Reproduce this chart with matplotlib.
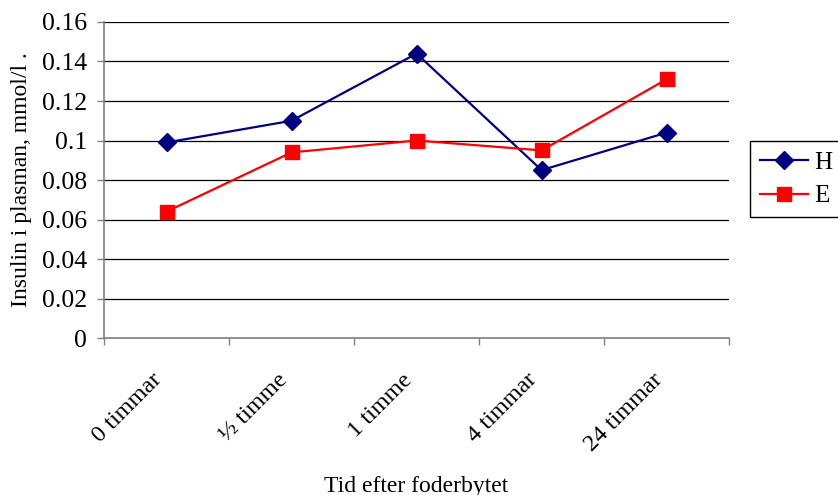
import numpy as np
import matplotlib
matplotlib.use('Agg')
import matplotlib.pyplot as plt
import matplotlib.transforms as mtransforms

# data
categories = ['0 timmar', '\u00bd timme', '1 timme', '4 timmar', '24 timmar']
h_values = [0.099, 0.110, 0.144, 0.085, 0.104]
e_values = [0.064, 0.094, 0.100, 0.095, 0.131]
y_ticks = [0, 0.02, 0.04, 0.06, 0.08, 0.1, 0.12, 0.14, 0.16]
y_ticklabels = ['0', '0.02', '0.04', '0.06', '0.08', '0.1', '0.12', '0.14', '0.16']

plt.rcParams['font.family'] = ['Liberation Serif', 'DejaVu Serif']

fig = plt.figure(figsize=(8.38, 4.95), dpi=100)
ax = fig.add_axes([0.1241, 0.317, 0.746, 0.6386])

x = np.arange(len(categories)) + 0.5
ax.plot(x, h_values, color='#000080', lw=1.6, marker='D', ms=9.5, label='H')
ax.plot(x, e_values, color='#FF0000', lw=1.6, marker='s', ms=10, label='E')

ax.set_xlim(0, len(categories))
ax.set_ylim(0, 0.16)
ax.set_yticks(y_ticks)
ax.set_yticklabels(y_ticklabels, fontsize=18.5)
ax.yaxis.grid(True, color='black', lw=0.9)
ax.set_axisbelow(True)

# category ticks sit between the categories, labels at the centres
ax.set_xticks(np.arange(len(categories) + 1))
ax.set_xticklabels([])
ax.set_xticks(x, minor=True)
ax.set_xticklabels(categories, minor=True, rotation=45, ha='right',
                   rotation_mode='anchor', fontsize=17.5)
ax.tick_params(axis='x', which='minor', length=0, pad=14)
ax.tick_params(axis='x', which='major', length=5, color='#808080', width=1)
ax.tick_params(axis='y', length=5, color='#808080', width=1, pad=7)

# nudge the slanted labels down/left like excel does
shift = mtransforms.ScaledTranslation(-15 / 100, -12 / 100, fig.dpi_scale_trans)
for lbl in ax.get_xticklabels(minor=True):
    lbl.set_transform(lbl.get_transform() + shift)

for side in ['top', 'right']:
    ax.spines[side].set_visible(False)
for side in ['left', 'bottom']:
    ax.spines[side].set_color('#808080')
    ax.spines[side].set_linewidth(1.2)

ax.set_ylabel('Insulin i plasman, mmol/l .', fontsize=17, labelpad=7)
ax.set_xlabel('Tid efter foderbytet', fontsize=17)
ax.xaxis.set_label_coords(0.5, -0.435)

leg = fig.legend(loc='upper left', bbox_to_anchor=(0.895, 0.715),
                 fontsize=18, fancybox=False, edgecolor='black',
                 framealpha=1, handlelength=1.9, borderaxespad=0,
                 handletextpad=0.25, labelspacing=0.45, borderpad=0.4)
leg.get_frame().set_linewidth(1.0)

fig.savefig('out.png', dpi=100)
